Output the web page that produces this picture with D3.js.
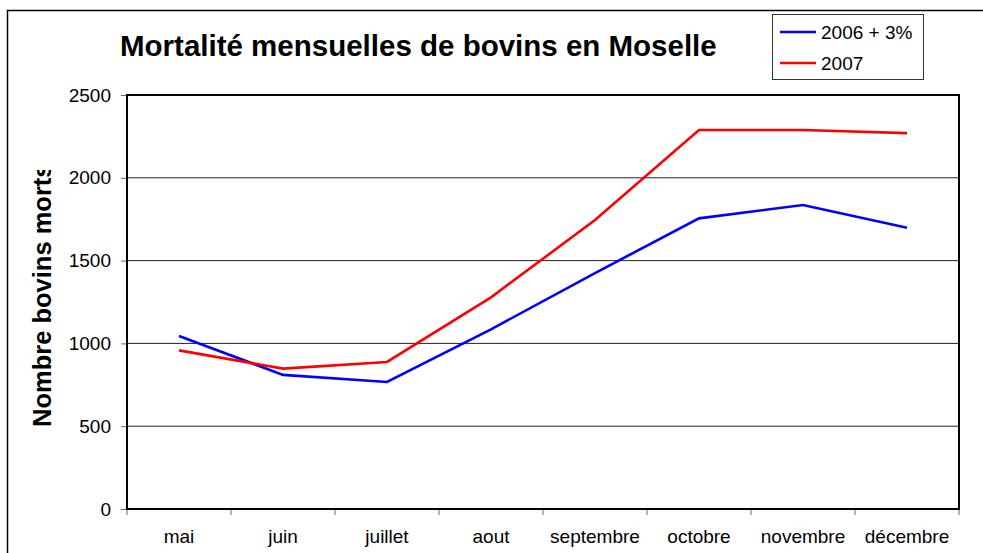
<!DOCTYPE html>
<html lang="fr">
	<head>
		<meta charset="utf-8">
		<title>Mortalité mensuelles de bovins en Moselle</title>
		<script src="https://cdn.jsdelivr.net/npm/d3@7"></script>
		<style type="text/css">
			body{ margin: 0; background: white; }
			text{ font-family: "Liberation Sans", Arial, sans-serif; fill: black; }
			.title{ font-size: 29.5px; font-weight: bold; }
			.yTitle{ font-size: 25.5px; font-weight: bold; }
			.tick text{ font-size: 19px; }
			.legend{ font-size: 19px; }
		</style>
	</head>
	<body>
		<div class="chart"></div>
		<script type="text/javascript">

			// data
			var months = ["mai", "juin", "juillet", "aout", "septembre", "octobre", "novembre", "décembre"];
			var serie2006 = [1045, 810, 767, 1085, 1425, 1755, 1836, 1698];
			var serie2007 = [958, 848, 888, 1278, 1745, 2289, 2289, 2270];
			var yTicks = [0, 500, 1000, 1500, 2000, 2500];
			var seriesNames = ["2006 + 3%", "2007"];
			var seriesColors = ["#0000ff", "#ff0000"];

			var w = 983;
			var h = 553;

			var plotLeft = 127, plotRight = 959, plotTop = 95, plotBottom = 509;

			var svg = d3.select("div.chart")
						.append("svg")
						.attr("width", w)
						.attr("height", h);

			// outer chart border (runs off the picture at right and bottom)
			svg.append("rect")
				.attr("x", 7.5).attr("y", 10.5)
				.attr("width", 1000).attr("height", 600)
				.attr("fill", "white")
				.attr("stroke", "black")
				.attr("stroke-width", 1.5);

			var xScale = d3.scaleBand()
						.domain(months)
						.range([plotLeft, plotRight]);

			var yScale = d3.scaleLinear()
						.domain([0, 2500])
						.range([plotBottom, plotTop]);

			// gridlines
			svg.append("g")
				.selectAll("line")
				.data(yTicks.slice(1, -1))
				.enter()
				.append("line")
				.attr("x1", plotLeft).attr("x2", plotRight)
				.attr("y1", (d) => yScale(d))
				.attr("y2", (d) => yScale(d))
				.attr("stroke", "#222")
				.attr("stroke-width", 1);

			var yAxis = d3.axisLeft(yScale)
						.tickValues(yTicks)
						.tickFormat(d3.format("d"))
						.tickSize(6)
						.tickPadding(10);

			var gy = svg.append("g")
				.attr("transform", "translate(" + plotLeft + ",0)")
				.call(yAxis);
			gy.select(".domain").remove();
			gy.selectAll(".tick line").attr("stroke", "#666");

			var xAxis = d3.axisBottom(xScale)
						.tickSize(0)
						.tickPadding(21);

			var gx = svg.append("g")
				.attr("transform", "translate(0," + plotBottom + ")")
				.call(xAxis);
			gx.select(".domain").remove();

			// tick marks between categories
			svg.append("g")
				.selectAll("line")
				.data(months.concat(["end"]))
				.enter()
				.append("line")
				.attr("x1", (d, i) => plotLeft + i * xScale.step())
				.attr("x2", (d, i) => plotLeft + i * xScale.step())
				.attr("y1", plotBottom)
				.attr("y2", plotBottom + 6)
				.attr("stroke", "#666");

			// plot frame
			svg.append("rect")
				.attr("x", plotLeft).attr("y", plotTop)
				.attr("width", plotRight - plotLeft).attr("height", plotBottom - plotTop)
				.attr("fill", "none")
				.attr("stroke", "black")
				.attr("stroke-width", 2);

			var line = d3.line()
						.x((d, i) => xScale(months[i]) + xScale.bandwidth() / 2)
						.y((d) => yScale(d));

			[serie2006, serie2007].forEach(function(s, k){
				svg.append("path")
					.datum(s)
					.attr("d", line)
					.attr("fill", "none")
					.attr("stroke", seriesColors[k])
					.attr("stroke-width", 2.6)
					.attr("stroke-linejoin", "miter");
			});

			// title
			svg.append("text")
				.attr("class", "title")
				.attr("x", 120)
				.attr("y", 56)
				.text("Mortalité mensuelles de bovins en Moselle");

			// y axis title, cut off at the top like in the original
			svg.append("clipPath")
				.attr("id", "yclip")
				.append("rect")
				.attr("x", 0).attr("y", 170)
				.attr("width", 80).attr("height", 300);

			svg.append("g")
				.attr("clip-path", "url(#yclip)")
				.append("text")
				.attr("class", "yTitle")
				.attr("transform", "translate(51,427) rotate(-90)")
				.text("Nombre bovins morts");

			// legend
			var legend = svg.append("g");

			legend.append("rect")
				.attr("x", 772.5).attr("y", 14.5)
				.attr("width", 151).attr("height", 65)
				.attr("fill", "white")
				.attr("stroke", "#333")
				.attr("stroke-width", 1);

			seriesNames.forEach(function(name, k){
				var ly = 32 + k * 31;
				legend.append("line")
					.attr("x1", 780).attr("x2", 816)
					.attr("y1", ly).attr("y2", ly)
					.attr("stroke", seriesColors[k])
					.attr("stroke-width", 2.6);
				legend.append("text")
					.attr("class", "legend")
					.attr("x", 821)
					.attr("y", ly + 7)
					.text(name);
			});

		</script>
	</body>
</html>
